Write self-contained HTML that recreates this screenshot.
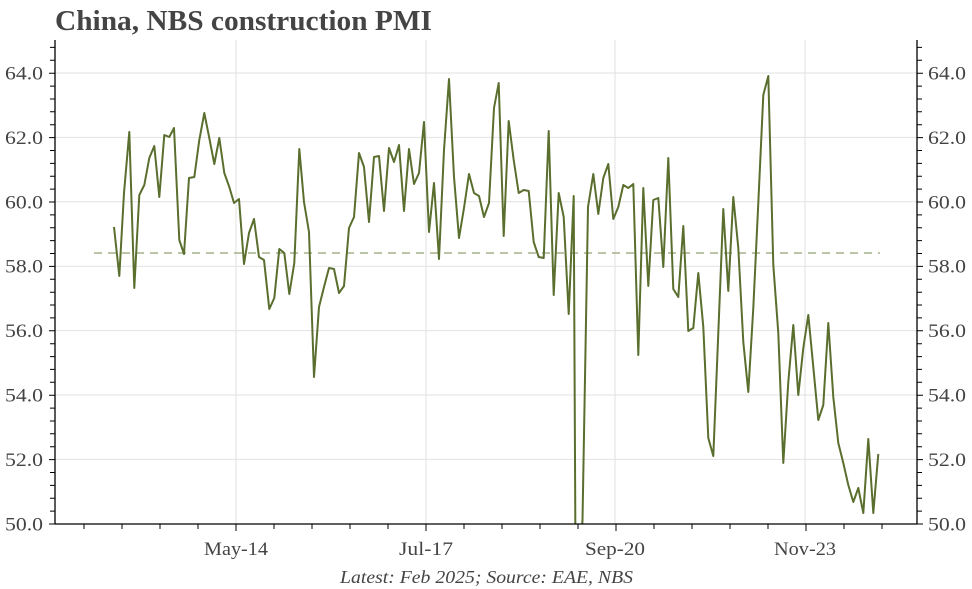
<!DOCTYPE html>
<html><head><meta charset="utf-8"><style>
html,body{margin:0;padding:0;background:#fff;overflow:hidden;width:972px;height:589px;}
svg{display:block;font-family:"Liberation Serif",serif;}
</style></head><body>
<svg width="972" height="589" viewBox="0 0 972 589" xmlns="http://www.w3.org/2000/svg">
<text x="55" y="30" font-size="28" font-weight="bold" fill="#444" textLength="377" lengthAdjust="spacingAndGlyphs">China, NBS construction PMI</text>
<g stroke="#e2e2e2" stroke-width="1">
<line x1="55" x2="917" y1="73" y2="73"/><line x1="55" x2="917" y1="137.4" y2="137.4"/>
<line x1="55" x2="917" y1="201.8" y2="201.8"/><line x1="55" x2="917" y1="266.2" y2="266.2"/>
<line x1="55" x2="917" y1="330.6" y2="330.6"/><line x1="55" x2="917" y1="395" y2="395"/>
<line x1="55" x2="917" y1="459.4" y2="459.4"/>
<line x1="236" x2="236" y1="40" y2="524"/><line x1="426" x2="426" y1="40" y2="524"/>
<line x1="615" x2="615" y1="40" y2="524"/><line x1="805" x2="805" y1="40" y2="524"/>
</g>
<line x1="94" x2="880" y1="253" y2="253" stroke="#a3b08a" stroke-width="1.6" stroke-dasharray="8,6"/>
<defs><clipPath id="c"><rect x="55" y="40" width="862" height="484"/></clipPath></defs>
<polyline clip-path="url(#c)" fill="none" stroke="#5a6e2e" stroke-width="2" stroke-linejoin="round" points="
114,227 119.3,276 124,193 129.3,132 134.3,288 139.3,195 144.3,185 149.3,158 154.3,146 159.3,197 164.3,135 169.3,137 174,128 179.3,240 184,254 189,178 194.3,177 199.3,140 204.3,113 209.3,138 214.3,164 219.3,138 224.3,173 229.3,187 234,203 239,199 244,264 249,233 254,219 259,257 264,260 269.3,309 274.3,298 279.3,249 284.3,253 289.3,294 294.3,263 299.3,149
304,202 309,232 314,377 319,307 324,287 329,268 334,269 339,293 344,286 349,228 354,217 359,153 364,167 369,222 374,157 379,156 384,211 389,148 394,162 399,145 404,211 409,149 414,184 419,173 424,122 429,232 434,183 439,259 444,150 449,79 454,177 459,238 464,208 469,174 474,193 479,196 484,217 489,203
494,108 498.7,83 503.7,236 508.7,121 513.7,160 518.7,193 523.7,190 528.7,191 533.7,242 538.7,257 543.7,258 548.7,131 553.7,295 558.7,193 563.7,217 568.7,314 573.7,196 575.5,560 580,560 582.5,520 588,207 593.3,174 598.3,214 603.3,178 608.3,164 613.3,219 618.3,207 623.3,185 628.3,188 633.3,184 638.3,355 643.3,188 648.3,286 653.3,200 658.3,198 663.3,267 668.3,158 673.3,289 678.3,297
683.3,226 688.3,331 693.3,328 698.3,273 703.3,327 708.3,438 713.3,456 718.3,333 723.3,209 728.3,291 733.3,197 738.3,248 743.3,342 748.3,392 753.3,308 758.3,203 763.3,95 768.3,76 773.3,265 778.3,333 783.3,463 788.3,382 793.3,325 798.3,395 803.3,348 808.3,315 813.3,367 818.3,420 823.3,405 828.3,323 833.3,397 838.3,443 843.3,463 848.3,485 853.3,502 858.3,488 863.3,513 868.3,439 873.3,513 878.3,454"/>
<g stroke="#000" stroke-width="1.3" fill="none">
<line x1="55" x2="55" y1="40" y2="524.5"/><line x1="917" x2="917" y1="40" y2="524.5"/>
<line x1="55" x2="917" y1="524" y2="524"/>
</g>
<path stroke="#000" stroke-width="1" fill="none" d="
M49 524h6M50 511.1h5M50 498.2h5M50 485.4h5M50 472.5h5M49 459.6h6M50 446.7h5M50 433.8h5M50 421h5M50 408.1h5M49 395.2h6M50 382.3h5M50 369.4h5M50 356.6h5M50 343.7h5M49 330.8h6M50 317.9h5M50 305h5M50 292.2h5M50 279.3h5M49 266.4h6M50 253.5h5M50 240.6h5M50 227.8h5M50 214.9h5M49 202h6M50 189.1h5M50 176.2h5M50 163.4h5M50 150.5h5M49 137.6h6M50 124.7h5M50 111.8h5M50 99h5M50 86.1h5M49 73.2h6M50 60.3h5M50 47.4h5
M917 524h6M917 511.1h5M917 498.2h5M917 485.4h5M917 472.5h5M917 459.6h6M917 446.7h5M917 433.8h5M917 421h5M917 408.1h5M917 395.2h6M917 382.3h5M917 369.4h5M917 356.6h5M917 343.7h5M917 330.8h6M917 317.9h5M917 305h5M917 292.2h5M917 279.3h5M917 266.4h6M917 253.5h5M917 240.6h5M917 227.8h5M917 214.9h5M917 202h6M917 189.1h5M917 176.2h5M917 163.4h5M917 150.5h5M917 137.6h6M917 124.7h5M917 111.8h5M917 99h5M917 86.1h5M917 73.2h6M917 60.3h5M917 47.4h5
M84 524v5M122 524v5M160 524v5M198 524v5M236 524v7M274 524v5M312 524v5M350 524v5M388 524v5M426 524v7M464 524v5M502 524v5M540 524v5M578 524v5M616 524v7M654 524v5M692 524v5M730 524v5M768 524v5M806 524v7M844 524v5M882 524v5"/>
<g fill="#444" font-size="19">
<text x="43" y="79.5" text-anchor="end" textLength="38" lengthAdjust="spacingAndGlyphs">64.0</text><text x="43" y="143.9" text-anchor="end" textLength="38" lengthAdjust="spacingAndGlyphs">62.0</text>
<text x="43" y="208.3" text-anchor="end" textLength="38" lengthAdjust="spacingAndGlyphs">60.0</text><text x="43" y="272.7" text-anchor="end" textLength="38" lengthAdjust="spacingAndGlyphs">58.0</text>
<text x="43" y="337.1" text-anchor="end" textLength="38" lengthAdjust="spacingAndGlyphs">56.0</text><text x="43" y="401.5" text-anchor="end" textLength="38" lengthAdjust="spacingAndGlyphs">54.0</text>
<text x="43" y="465.9" text-anchor="end" textLength="38" lengthAdjust="spacingAndGlyphs">52.0</text><text x="43" y="530.5" text-anchor="end" textLength="38" lengthAdjust="spacingAndGlyphs">50.0</text>
<text x="928" y="79.5" textLength="38" lengthAdjust="spacingAndGlyphs">64.0</text><text x="928" y="143.9" textLength="38" lengthAdjust="spacingAndGlyphs">62.0</text>
<text x="928" y="208.3" textLength="38" lengthAdjust="spacingAndGlyphs">60.0</text><text x="928" y="272.7" textLength="38" lengthAdjust="spacingAndGlyphs">58.0</text>
<text x="928" y="337.1" textLength="38" lengthAdjust="spacingAndGlyphs">56.0</text><text x="928" y="401.5" textLength="38" lengthAdjust="spacingAndGlyphs">54.0</text>
<text x="928" y="465.9" textLength="38" lengthAdjust="spacingAndGlyphs">52.0</text><text x="928" y="530.5" textLength="38" lengthAdjust="spacingAndGlyphs">50.0</text>
<text x="236" y="555" text-anchor="middle" textLength="64" lengthAdjust="spacingAndGlyphs">May-14</text><text x="426" y="555" text-anchor="middle" textLength="54" lengthAdjust="spacingAndGlyphs">Jul-17</text>
<text x="615" y="555" text-anchor="middle" textLength="60" lengthAdjust="spacingAndGlyphs">Sep-20</text><text x="805" y="555" text-anchor="middle" textLength="62" lengthAdjust="spacingAndGlyphs">Nov-23</text>
</g>
<text x="340" y="583" font-size="18" font-style="italic" fill="#444" textLength="293" lengthAdjust="spacingAndGlyphs">Latest: Feb 2025; Source: EAE, NBS</text>
</svg>
</body></html>
